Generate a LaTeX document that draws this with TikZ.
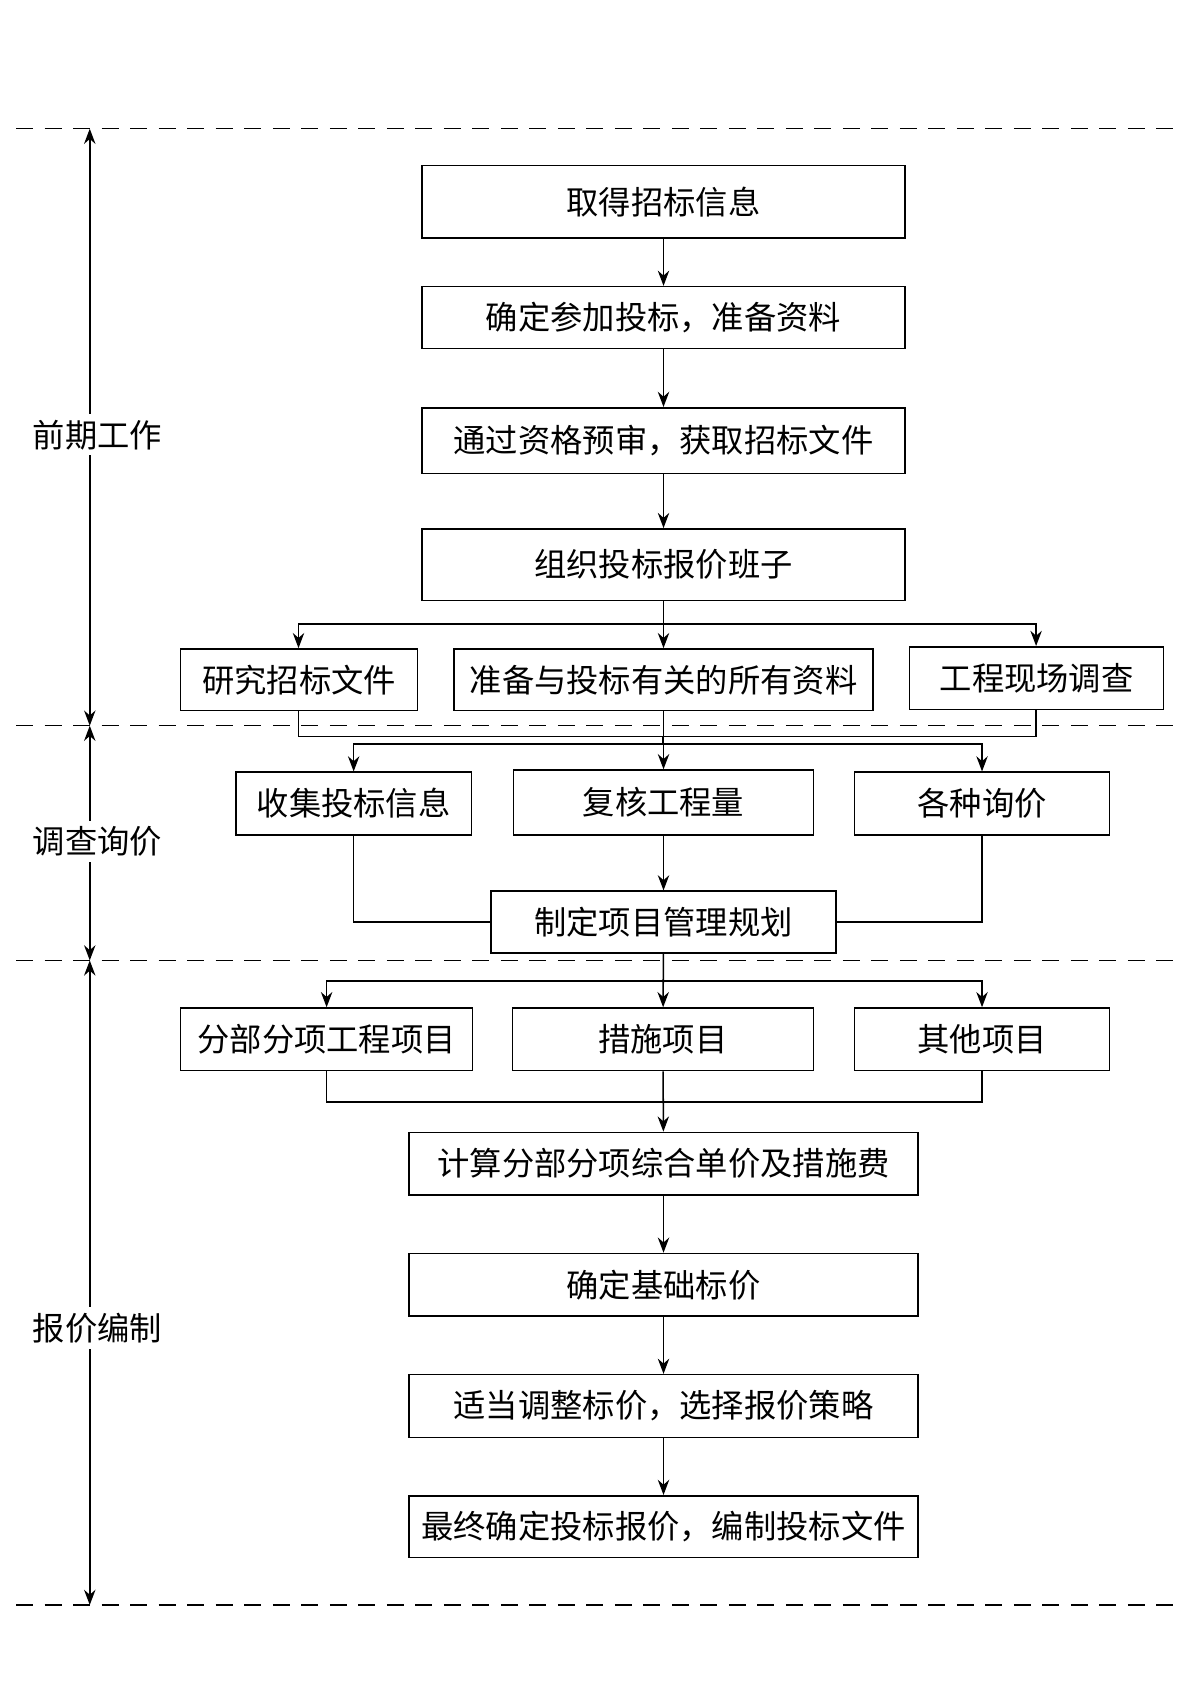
\documentclass[tikz,border=0pt]{standalone}
\usepackage{fontspec}
\setmainfont{Noto Sans CJK SC}
\usetikzlibrary{arrows.meta}
\tikzset{
  box/.style={draw, thick, inner sep=0pt, font=\fontsize{17}{20}\selectfont},
  flow/.style={thick, -{Stealth[length=8pt,width=6pt]}},
  stage/.style={fill=white, inner sep=3pt, font=\fontsize{17}{20}\selectfont}
}
% box from left/top and right/bottom corners (pixel units)
\newcommand{\bx}[6]{\node[box, minimum width=#4*0.02cm-#2*0.02cm, minimum height=#5*0.02cm-#3*0.02cm] (#1) at ({(#2+#4)/2},{(#3+#5)/2}) {#6};}
\begin{document}
\begin{tikzpicture}[x=0.02cm, y=-0.02cm]
  \useasboundingbox (0,0) rectangle (1110,1570);

  % stage separators
  \foreach \yy in {119,671,888,1484}
    \draw[thick, dash pattern=on 9pt off 6pt] (15,\yy) -- (1095,\yy);

  \coordinate (s0) at (83,119);
  \coordinate (s1) at (83,671);
  \coordinate (s2) at (83,888);
  \coordinate (s3) at (83,1484);
  \draw[thick, {Stealth[length=8pt,width=6pt]}-{Stealth[length=8pt,width=6pt]}] (s0) -- (s1);
  \draw[thick, {Stealth[length=8pt,width=6pt]}-{Stealth[length=8pt,width=6pt]}] (s1) -- (s2);
  \draw[thick, {Stealth[length=8pt,width=6pt]}-{Stealth[length=8pt,width=6pt]}] (s2) -- (s3);
  \node[stage] (st1) at (90,402) {前期工作};
  \node[stage] (st2) at (90,778) {调查询价};
  \node[stage] (st3) at (90,1228) {报价编制};

  % first stage
  \bx{a1}{390}{153}{837}{220}{取得招标信息}
  \bx{a2}{390}{265}{837}{322}{确定参加投标，准备资料}
  \bx{a3}{390}{377}{837}{438}{通过资格预审，获取招标文件}
  \bx{a4}{390}{489}{837}{555}{组织投标报价班子}
  \bx{r1}{167}{600}{386}{657}{研究招标文件}
  \bx{r2}{420}{600}{807}{657}{准备与投标有关的所有资料}
  \bx{r3}{841}{598}{1076}{656}{工程现场调查}
  \draw[flow] (a1) -- (a2);
  \draw[flow] (a2) -- (a3);
  \draw[flow] (a3) -- (a4);
  \draw[flow] (a4) -- (r2);
  \draw[flow] (a4.south) |- (276,577) -- (r1.north -| 276,0);
  \draw[flow] (a4.south) |- (958,577) -- (r3.north -| 958,0);

  % second stage
  \bx{q1}{218}{714}{436}{772}{收集投标信息}
  \bx{q2}{475}{712}{752}{772}{复核工程量}
  \bx{q3}{790}{714}{1026}{772}{各种询价}
  \bx{p1}{454}{824}{773}{881}{制定项目管理规划}
  \draw[thick] (r1.south -| 276,0) |- (958,681) -- (r3.south -| 958,0);
  \draw[flow] (r2) -- (q2);
  \draw[flow] (613,681) |- (327,688) -- (q1.north -| 327,0);
  \draw[flow] (613,681) |- (908,688) -- (q3.north -| 908,0);
  \draw[flow] (q2) -- (p1);
  \draw[thick] (q1.south -| 327,0) |- (p1.west);
  \draw[thick] (q3.south -| 908,0) |- (p1.east);

  % third stage
  \bx{w1}{167}{932}{437}{990}{分部分项工程项目}
  \bx{w2}{474}{932}{752}{990}{措施项目}
  \bx{w3}{790}{932}{1026}{990}{其他项目}
  \bx{c1}{378}{1047}{849}{1105}{计算分部分项综合单价及措施费}
  \bx{c2}{378}{1159}{849}{1217}{确定基础标价}
  \bx{c3}{378}{1271}{849}{1329}{适当调整标价，选择报价策略}
  \bx{c4}{378}{1383}{849}{1440}{最终确定投标报价，编制投标文件}
  \draw[flow] (p1) -- (w2);
  \draw[flow] (p1.south) |- (302,907) -- (w1.north -| 302,0);
  \draw[flow] (p1.south) |- (908,907) -- (w3.north -| 908,0);
  \draw[thick] (w1.south -| 302,0) |- (908,1019) -- (w3.south -| 908,0);
  \draw[flow] (w2) -- (c1);
  \draw[flow] (c1) -- (c2);
  \draw[flow] (c2) -- (c3);
  \draw[flow] (c3) -- (c4);
\end{tikzpicture}
\end{document}
